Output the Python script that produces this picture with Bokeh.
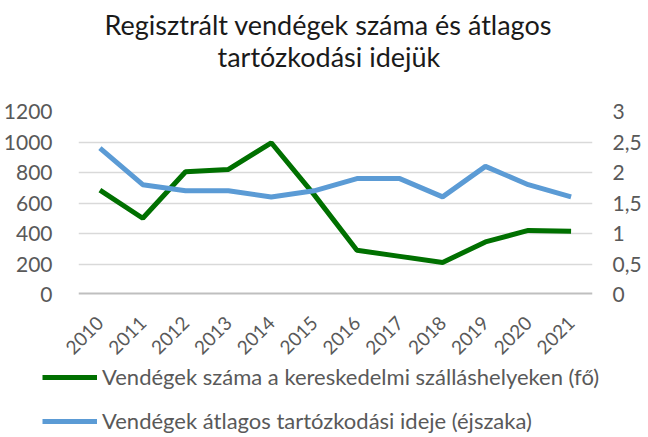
from bokeh.plotting import figure
from bokeh.layouts import column, row
from bokeh.models import Range1d, LinearAxis, FactorRange, Legend, LegendItem, Title, CustomJSTickFormatter, FixedTicker, Span
from bokeh.embed import file_html
from bokeh.resources import INLINE
import math

years = ["2010", "2011", "2012", "2013", "2014", "2015", "2016", "2017", "2018", "2019", "2020", "2021"]
guests = [685, 500, 805, 820, 995, 655, 290, 250, 210, 345, 420, 415]
avg_stay = [2.4, 1.8, 1.7, 1.7, 1.6, 1.7, 1.9, 1.9, 1.6, 2.1, 1.8, 1.6]
left_ticks = [0, 200, 400, 600, 800, 1000, 1200]
right_ticks = [0, 0.5, 1, 1.5, 2, 2.5, 3]
name_guests = "Vendégek száma a kereskedelmi szálláshelyeken (fő)"
name_stay = "Vendégek átlagos tartózkodási ideje (éjszaka)"
title_lines = ["Regisztrált vendégek száma és átlagos", "tartózkodási idejük"]

FONT = "Lato"
TXT = "#595959"
GREEN = "#007000"
BLUE = "#5B9BD5"

p = figure(width=632, height=350, frame_width=514, frame_height=183,
           x_range=FactorRange(*years), y_range=Range1d(0, 1200),
           output_backend="svg", toolbar_location=None,
           min_border_left=71, min_border_right=47, min_border_top=0, min_border_bottom=0)
p.outline_line_color = None
p.extra_y_ranges = {"stay": Range1d(0, 3)}

def spacer(gap):
    return Title(text=" ", text_font_size="1px", standoff=gap)

# panels stack outward from the frame
p.add_layout(spacer(35), "above")
p.add_layout(Title(text=title_lines[1], align="left", offset=139, text_font=FONT,
                   text_font_size="27px", text_font_style="normal", text_color="#1a1a1a",
                   standoff=2), "above")
p.add_layout(Title(text=title_lines[0], align="left", offset=26, text_font=FONT,
                   text_font_size="27px", text_font_style="normal", text_color="#1a1a1a",
                   standoff=-8), "above")
p.add_layout(spacer(6), "above")

r1 = p.line(years, guests, line_color=GREEN, line_width=5)
r2 = p.line(years, avg_stay, line_color=BLUE, line_width=5, y_range_name="stay")

p.ygrid.grid_line_color = "#d9d9d9"
p.ygrid.grid_line_width = 1.5
p.xgrid.grid_line_color = None
p.yaxis.ticker = FixedTicker(ticks=left_ticks)

def style_axis(ax, standoff, size):
    ax.axis_line_color = None
    ax.major_tick_line_color = None
    ax.minor_tick_line_color = None
    ax.major_tick_out = 0
    ax.major_tick_in = 0
    ax.minor_tick_out = 0
    ax.minor_tick_in = 0
    ax.major_label_text_font = FONT
    ax.major_label_text_font_size = size
    ax.major_label_text_color = TXT
    ax.major_label_standoff = standoff

style_axis(p.yaxis[0], 26, "21px")

ra = LinearAxis(y_range_name="stay", ticker=FixedTicker(ticks=right_ticks),
                formatter=CustomJSTickFormatter(code="return tick.toString().replace('.', ',');"))
style_axis(ra, 20, "21px")
p.add_layout(ra, "right")

xa = p.xaxis[0]
style_axis(xa, 25, "19px")
xa.major_label_orientation = math.pi / 4

p.add_layout(Span(location=0, dimension="width", line_color="#bfbfbf", line_width=4))

# legend strip below the chart (its own plot, so the legend is not clipped by the chart frame)
p2 = figure(width=632, height=71, frame_width=632, frame_height=71,
            x_range=FactorRange(*years), y_range=Range1d(0, 1200),
            x_axis_type=None, y_axis_type=None, output_backend="svg", toolbar_location=None,
            min_border=0, min_border_left=0, min_border_right=0, min_border_top=0, min_border_bottom=0)
p2.outline_line_color = None
l1 = p2.line(years, guests, line_color=GREEN, line_width=5, visible=False)
l2 = p2.line(years, avg_stay, line_color=BLUE, line_width=5, visible=False)
legend = Legend(items=[LegendItem(label=name_guests, renderers=[l1]),
                       LegendItem(label=name_stay, renderers=[l2])],
                location=(42, 0), orientation="vertical",
                label_text_font=FONT, label_text_font_size="22px", label_text_color=TXT,
                glyph_width=55, glyph_height=22, label_height=22, spacing=17, padding=0, margin=0,
                label_standoff=5, background_fill_alpha=0, border_line_color=None)
p2.add_layout(legend, "center")

open("out.html", "w").write(file_html(column(p, row(p2)), INLINE))
